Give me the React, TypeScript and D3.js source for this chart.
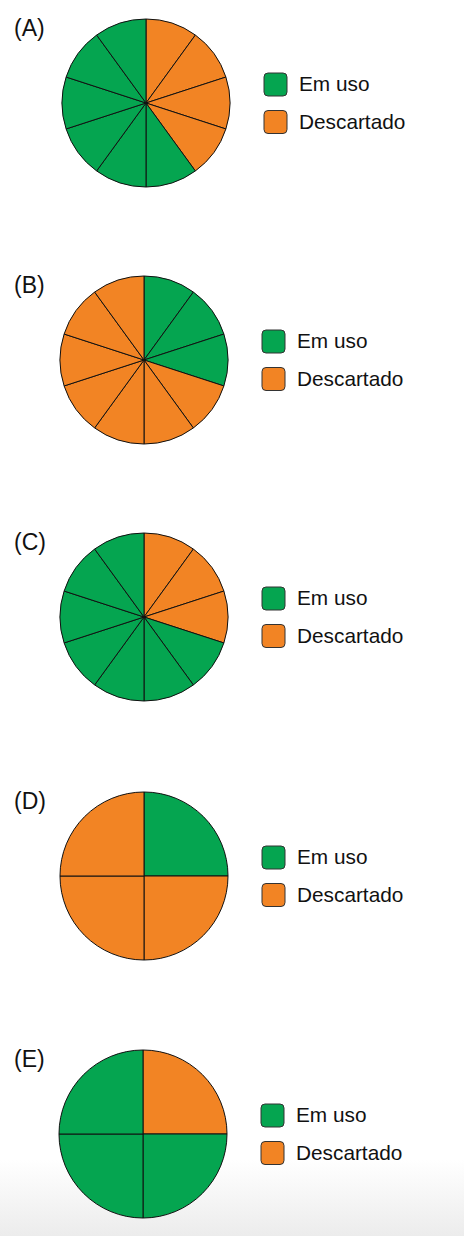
import React from "react";
import * as d3 from "d3";

const categories = ["Em uso", "Descartado"];
const colors = ["#05a550", "#f28424"];
const panelLabels = ["(A)", "(B)", "(C)", "(D)", "(E)"];
// slices clockwise from 12 o'clock: 0 = Em uso, 1 = Descartado
const slicesA = [1, 1, 1, 1, 0, 0, 0, 0, 0, 0];
const slicesB = [0, 0, 0, 1, 1, 1, 1, 1, 1, 1];
const slicesC = [1, 1, 1, 0, 0, 0, 0, 0, 0, 0];
const slicesD = [0, 1, 1, 1];
const slicesE = [1, 0, 0, 0];
const panels = [slicesA, slicesB, slicesC, slicesD, slicesE];

const W = 464;
const H = 1236;
const R = 84;
const centersX = [146, 144, 144, 144, 143];
const centersY = [103, 360, 617, 876, 1134];

export default function App() {
  const pie = d3.pie<number>().value(() => 1).sort(null);
  const arc = d3.arc<d3.PieArcDatum<number>>().innerRadius(0).outerRadius(R);
  const font = "Liberation Sans, Arial, Helvetica, sans-serif";
  return (
    <svg
      width={W}
      height={H}
      style={{ position: "absolute", left: 0, top: 0, display: "block" }}
      fontFamily={font}
    >
      <defs>
        <linearGradient id="bg" x1="0" y1="0" x2="0" y2="1">
          <stop offset="0" stopColor="#ffffff" />
          <stop offset="1" stopColor="#ececec" />
        </linearGradient>
      </defs>
      <rect x={0} y={0} width={W} height={H} fill="#fff" />
      <rect x={0} y={1160} width={W} height={H - 1160} fill="url(#bg)" />
      {panels.map((slices, i) => {
        const cx = centersX[i];
        const cy = centersY[i];
        const lx = cx + 118;
        return (
          <g key={i}>
            <text x={14} y={cy - 67} fontSize={23} fill="#111">
              {panelLabels[i]}
            </text>
            <g transform={`translate(${cx},${cy})`}>
              {pie(slices).map((d, j) => (
                <path
                  key={j}
                  d={arc(d) || ""}
                  fill={colors[d.data]}
                  stroke="#111"
                  strokeWidth={1}
                  strokeLinejoin="round"
                />
              ))}
            </g>
            {categories.map((c, k) => (
              <g key={c}>
                <rect
                  x={lx}
                  y={cy - 30 + k * 37.5}
                  width={23}
                  height={23}
                  rx={4}
                  fill={colors[k]}
                  stroke="#333"
                  strokeWidth={1}
                />
                <text
                  x={lx + 35}
                  y={cy - 12 + k * 37.5}
                  fontSize={20.8}
                  fill="#111"
                >
                  {c}
                </text>
              </g>
            ))}
          </g>
        );
      })}
    </svg>
  );
}
